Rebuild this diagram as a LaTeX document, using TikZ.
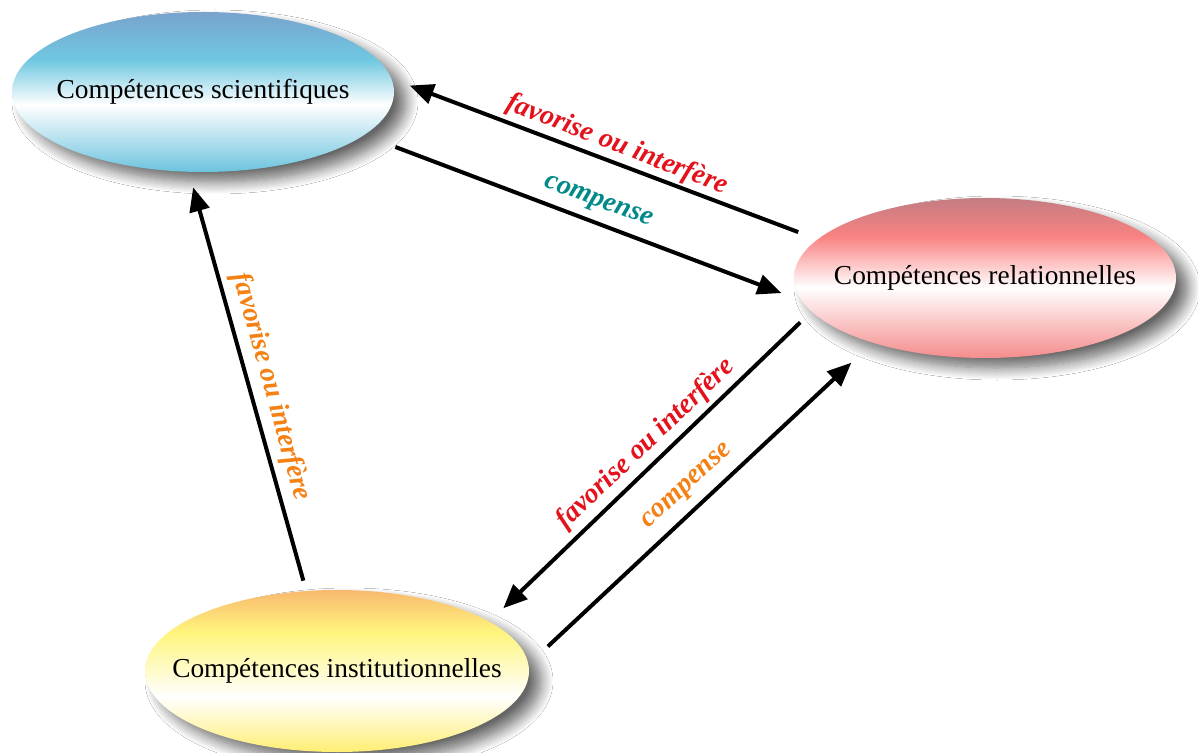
\documentclass[tikz,border=0pt]{standalone}
\usepackage{fontspec}
\setmainfont{Liberation Serif}
\usetikzlibrary{arrows.meta,shapes.geometric,shadows.blur}

\definecolor{sciT}{RGB}{120,163,205}
\definecolor{sciM}{RGB}{112,200,225}
\definecolor{sciB}{RGB}{108,195,222}
\definecolor{relT}{RGB}{195,125,130}
\definecolor{relM}{RGB}{250,130,130}
\definecolor{relB}{RGB}{245,140,140}
\definecolor{insT}{RGB}{248,185,110}
\definecolor{insM}{RGB}{255,245,125}
\definecolor{insB}{RGB}{255,238,115}
\definecolor{lred}{RGB}{228,18,28}
\definecolor{lteal}{RGB}{0,138,138}
\definecolor{lorange}{RGB}{245,128,20}

\pgfdeclareverticalshading{scishade}{100bp}{color(0bp)=(sciB); color(25bp)=(sciB); color(46bp)=(white); color(60bp)=(sciM); color(75bp)=(sciT); color(100bp)=(sciT)}
\pgfdeclareverticalshading{relshade}{100bp}{color(0bp)=(relB); color(25bp)=(relB); color(47bp)=(white); color(63bp)=(relM); color(75bp)=(relT); color(100bp)=(relT)}
\pgfdeclareverticalshading{insshade}{100bp}{color(0bp)=(insB); color(25bp)=(insB); color(42bp)=(white); color(62bp)=(insM); color(75bp)=(insT); color(100bp)=(insT)}

\begin{document}
\begin{tikzpicture}[x=0.5pt,y=-0.5pt,
  comp/.style={ellipse, inner sep=0pt, minimum width=191pt, minimum height=80pt,
    font=\fontsize{13.7}{16}\selectfont,
    blur shadow={shadow xshift=6pt, shadow yshift=-5pt, shadow blur radius=6pt, shadow blur steps=12, shadow opacity=60}},
  link/.style={-{Triangle[length=12pt,width=10pt]}, line width=2pt, black},
  lbl/.style={font=\fontsize{14}{16}\selectfont\bfseries\itshape, inner sep=0pt}]

\useasboundingbox[fill=white] (0,0) rectangle (1198,753);

\node[comp, shade, shading=scishade] (sci) at (203,92) {\makebox[0pt]{Compétences scientifiques}};
\node[comp, shade, shading=relshade] (rel) at (985,278) {\makebox[0pt]{Compétences relationnelles}};
\node[comp, shade, shading=insshade, minimum width=192pt, minimum height=81pt] (ins) at (337,671) {\makebox[0pt]{Compétences institutionnelles}};

\draw[link, shorten <=10.2pt, shorten >=9.55pt] (rel.167.78) -- (sci.4.86);
\draw[link, shorten <=16.6pt, shorten >=10.6pt] (sci.-15.64) -- (rel.-173.34);
\draw[link, shorten <=5.2pt, shorten >=7.9pt] (ins.111.32) -- (sci.-100.13);
\draw[link, shorten <=7.7pt, shorten >=9.5pt] (rel.-169.46) -- (ins.18.84);
\draw[link, shorten <=13.1pt, shorten >=14.4pt] (ins.2.75) -- (rel.-150.30);

\node[lbl, text=lred, rotate=-21.2] (l1) at (617,145) {favorise ou interfère};
\node[lbl, text=lteal, rotate=-20.3] (l2) at (598,203) {compense};
\node[lbl, text=lorange, rotate=-74.4] (l3) at (271,387) {favorise ou interfère};
\node[lbl, text=lred, rotate=43.6] (l4) at (646,444) {favorise ou interfère};
\node[lbl, text=lorange, rotate=42.8] (l5) at (688,487) {compense};
\end{tikzpicture}
\end{document}
